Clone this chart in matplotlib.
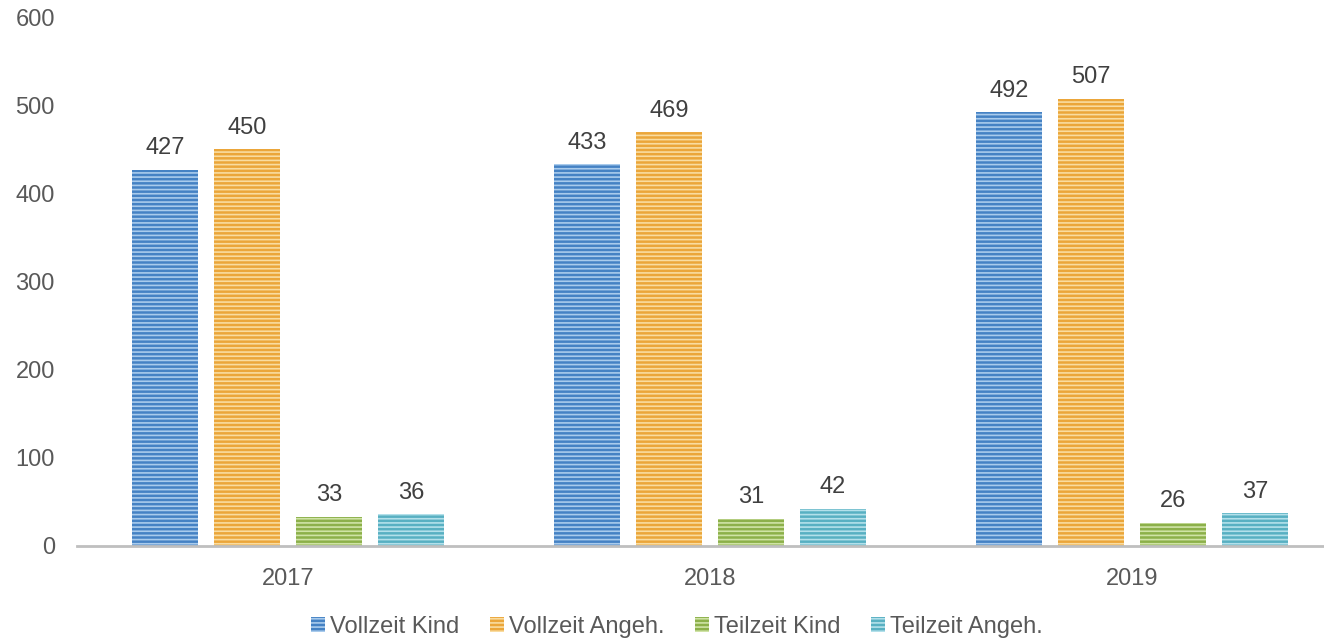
import matplotlib.pyplot as plt
import numpy as np

plt.rcParams['font.family'] = ['Liberation Sans', 'DejaVu Sans']
plt.rcParams['hatch.linewidth'] = 1.2

years = ['2017', '2018', '2019']
series = ['Vollzeit Kind', 'Vollzeit Angeh.', 'Teilzeit Kind', 'Teilzeit Angeh.']
vollzeit_kind = [427, 433, 492]
vollzeit_angeh = [450, 469, 507]
teilzeit_kind = [33, 31, 26]
teilzeit_angeh = [36, 42, 37]
values = [vollzeit_kind, vollzeit_angeh, teilzeit_kind, teilzeit_angeh]

# base colour and lighter stripe colour
colors = ['#4582c4', '#eba63a', '#8cb04a', '#58b0c2']
stripes = ['#a9cbec', '#f9dca0', '#cfe3a6', '#b3e0ea']

fig = plt.figure(figsize=(13.24, 6.41), dpi=100)
ax = fig.add_axes([77 / 1324, 95 / 641, 1247 / 1324, 529 / 641])

x = np.arange(len(years))
offsets = [-0.291, -0.097, 0.097, 0.291]
width = 0.157

handles = []
for vals, off, c, s, name in zip(values, offsets, colors, stripes, series):
    bars = ax.bar(x + off, vals, width, color=c, edgecolor=s, hatch='----',
                  linewidth=0, label=name)
    handles.append(bars)
    for xi, v in zip(x + off, vals):
        ax.text(xi, v + 12, str(v), ha='center', va='bottom',
                fontsize=17, color='#404040')

ax.set_xlim(-0.5, -0.5 + 1247 / 422)
ax.set_ylim(0, 600)
ax.set_yticks([0, 100, 200, 300, 400, 500, 600])
ax.set_xticks(x)
ax.set_xticklabels(years)
ax.tick_params(axis='both', length=0, labelsize=17, labelcolor='#595959')
ax.tick_params(axis='y', pad=16)
ax.tick_params(axis='x', pad=16)

for sp in ['top', 'right', 'left']:
    ax.spines[sp].set_visible(False)
ax.spines['bottom'].set_color('#bfbfbf')
ax.spines['bottom'].set_linewidth(2)

fig.legend(handles=handles, labels=series, loc='center',
           bbox_to_anchor=(677 / 1324, 14 / 641), ncol=4, frameon=False,
           fontsize=17, labelcolor='#595959', handlelength=0.6,
           handleheight=0.6, handletextpad=0.2, columnspacing=1.3)

fig.savefig('out.png', dpi=100)
